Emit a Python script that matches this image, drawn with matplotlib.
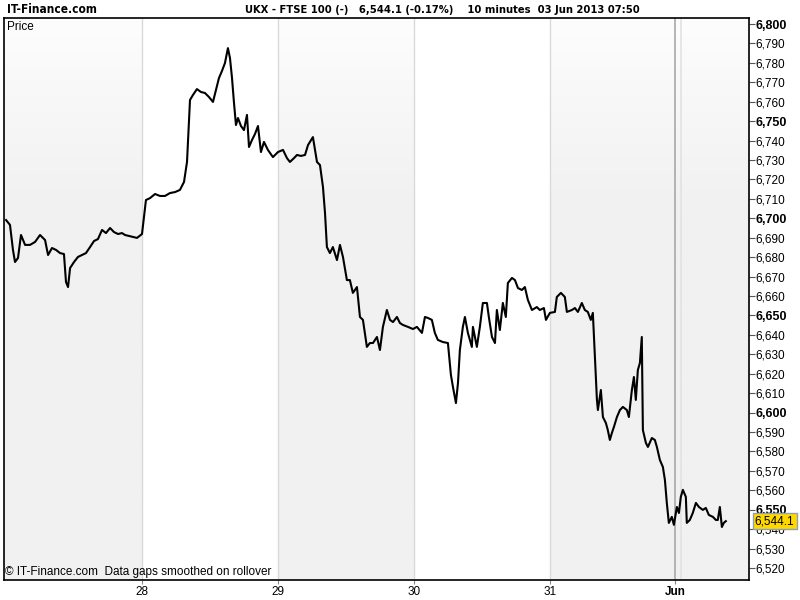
import numpy as np
import matplotlib
matplotlib.use("Agg")
import matplotlib.pyplot as plt
import matplotlib.transforms as mtransforms
from matplotlib.colors import LinearSegmentedColormap

# time in trading days from the start of 27 May (10 minute bars, sampled)
t = [0.000, 0.029, 0.051, 0.066, 0.088, 0.110, 0.140, 0.176, 0.213, 0.250,
     0.287, 0.309, 0.338, 0.368, 0.397, 0.426, 0.441, 0.456, 0.471, 0.500,
     0.529, 0.559, 0.588, 0.618, 0.647, 0.676, 0.706, 0.735, 0.765, 0.794,
     0.824, 0.853, 0.875, 0.963, 1.000, 1.029, 1.059, 1.096, 1.132, 1.169,
     1.206, 1.243, 1.279, 1.309, 1.331, 1.353, 1.375, 1.404, 1.434, 1.463,
     1.493, 1.522, 1.544, 1.566, 1.588, 1.610, 1.632, 1.647, 1.662, 1.676,
     1.691, 1.706, 1.728, 1.750, 1.772, 1.787, 1.809, 1.831, 1.853, 1.875,
     1.897, 1.926, 1.963, 2.000, 2.037, 2.066, 2.088, 2.118, 2.140, 2.169,
     2.199, 2.221, 2.257, 2.287, 2.309, 2.331, 2.346, 2.360, 2.382, 2.404,
     2.434, 2.456, 2.478, 2.507, 2.529, 2.551, 2.581, 2.603, 2.625, 2.654,
     2.676, 2.699, 2.728, 2.750, 2.772, 2.801, 2.824, 2.846, 2.875, 2.897,
     2.919, 2.956, 2.993, 3.022, 3.059, 3.081, 3.103, 3.132, 3.154, 3.176,
     3.213, 3.250, 3.272, 3.287, 3.309, 3.324, 3.338, 3.360, 3.375, 3.397,
     3.426, 3.434, 3.463, 3.485, 3.507, 3.537, 3.551, 3.574, 3.596, 3.610,
     3.632, 3.654, 3.676, 3.691, 3.721, 3.743, 3.765, 3.794, 3.816, 3.838,
     3.868, 3.904, 3.926, 3.956, 3.971, 4.000, 4.037, 4.051, 4.081, 4.110,
     4.125, 4.162, 4.184, 4.206, 4.235, 4.257, 4.279, 4.301, 4.316, 4.331,
     4.346, 4.353, 4.375, 4.390, 4.412, 4.426, 4.441, 4.456, 4.471, 4.493,
     4.515, 4.537, 4.566, 4.581, 4.603, 4.618, 4.632, 4.647, 4.662, 4.676,
     4.684, 4.706, 4.721, 4.750, 4.772, 4.787, 4.809, 4.831, 4.846, 4.860,
     4.875, 4.897, 4.912, 4.934, 4.949, 4.963, 4.978, 5.000, 5.007, 5.029,
     5.051, 5.074, 5.096, 5.125, 5.147, 5.169, 5.199, 5.221, 5.235, 5.250,
     5.265, 5.279, 5.294]

price = [6699.1, 6696.6, 6683.7, 6677.5, 6679.6, 6691.4, 6686.3, 6686.3, 6687.8, 6691.4,
         6688.8, 6681.1, 6684.7, 6683.7, 6682.1, 6681.6, 6667.2, 6664.6, 6674.4, 6677.5,
         6680.1, 6681.1, 6682.1, 6685.2, 6688.3, 6689.3, 6694.0, 6692.4, 6695.0, 6692.9,
         6691.9, 6692.4, 6691.4, 6689.9, 6691.9, 6709.4, 6710.4, 6712.5, 6711.5, 6711.5,
         6713.0, 6713.5, 6714.6, 6718.7, 6729.0, 6760.9, 6763.5, 6766.5, 6765.0, 6764.5,
         6762.4, 6759.9, 6766.0, 6772.2, 6775.8, 6779.9, 6787.6, 6782.5, 6772.2, 6759.9,
         6748.0, 6751.6, 6747.5, 6745.4, 6753.2, 6736.7, 6740.3, 6743.4, 6747.5, 6734.1,
         6739.3, 6735.2, 6731.5, 6734.1, 6735.2, 6731.0, 6729.0, 6731.0, 6732.6, 6732.1,
         6732.6, 6737.7, 6741.8, 6729.0, 6727.4, 6716.1, 6702.7, 6685.2, 6682.1, 6685.2,
         6678.5, 6686.3, 6680.1, 6668.2, 6668.2, 6661.6, 6664.6, 6649.2, 6647.7, 6633.8,
         6635.8, 6635.8, 6638.9, 6632.2, 6644.1, 6652.8, 6647.7, 6646.6, 6649.2, 6646.1,
         6645.1, 6644.1, 6643.0, 6644.1, 6641.0, 6649.2, 6648.7, 6647.7, 6641.0, 6637.4,
         6636.3, 6635.8, 6619.4, 6613.2, 6604.9, 6615.2, 6632.2, 6644.1, 6649.2, 6641.0,
         6633.8, 6644.1, 6633.8, 6644.1, 6656.4, 6656.4, 6649.2, 6638.9, 6635.8, 6652.8,
         6642.5, 6656.4, 6649.2, 6666.7, 6669.3, 6668.2, 6664.1, 6663.1, 6664.6, 6658.0,
         6652.8, 6654.3, 6652.8, 6653.8, 6647.7, 6651.3, 6651.8, 6659.5, 6661.6, 6659.5,
         6651.8, 6652.8, 6653.8, 6651.8, 6656.4, 6652.8, 6651.8, 6647.7, 6651.3, 6628.6,
         6606.5, 6601.3, 6611.6, 6597.7, 6594.6, 6591.0, 6585.9, 6589.5, 6592.6, 6597.7,
         6601.3, 6602.9, 6601.3, 6597.7, 6611.6, 6618.3, 6606.5, 6621.9, 6625.5, 6638.9,
         6591.0, 6584.4, 6582.3, 6586.9, 6585.9, 6582.3, 6575.6, 6572.0, 6565.3, 6553.5,
         6543.2, 6546.3, 6542.2, 6551.4, 6548.3, 6556.6, 6560.2, 6556.6, 6543.2, 6544.7,
         6548.3, 6553.5, 6551.4, 6549.9, 6550.9, 6547.3, 6546.3, 6544.7, 6544.7, 6551.4,
         6541.1, 6543.2, 6544.1]

day_starts = [1.0, 2.0, 3.0, 4.0, 4.919]
day_labels = ["28", "29", "30", "31", "Jun"]
last_price = 6544.1

fig = plt.figure(figsize=(8, 6), dpi=100)
ax = fig.add_axes([0.005, 0.0333, 0.931, 0.9367])
xmin, xmax = -0.015, 5.463
ymin, ymax = 6513.8, 6803.1
ax.set_xlim(xmin, xmax)
ax.set_ylim(ymin, ymax)
ax.set_facecolor("white")

# shaded day bands with a soft fade near the top
cmap = LinearSegmentedColormap.from_list("band", ["#fdfdfd", "#f1f1f1", "#f1f1f1", "#f1f1f1"])
grad = np.linspace(0, 1, 200).reshape(-1, 1)
for x0, x1 in [(xmin, 1.0), (2.0, 3.0), (4.0, xmax)]:
    ax.imshow(grad, extent=[x0, x1, ymin, ymax], aspect="auto", cmap=cmap,
              origin="upper", zorder=0)

for d in day_starts[:4]:
    ax.axvline(d, color="#dadada", lw=1, zorder=1)
ax.axvline(4.919, color="#a8a8a8", lw=1.2, zorder=1)
ax.axvline(4.963, color="#e2e2e2", lw=1.2, zorder=1)

ax.plot(t, price, color="black", lw=1.5, zorder=3)

# right y axis
ax.yaxis.tick_right()
yt = np.arange(6520, 6801, 10)
ax.set_yticks(yt)
ax.set_yticklabels([f"{v:,}" for v in yt])
for lab, v in zip(ax.get_yticklabels(), yt):
    lab.set_fontsize(8.5)
    lab.set_family("Liberation Sans")
    if v % 50 == 0:
        lab.set_fontweight("bold")
        lab.set_fontsize(9)
ax.tick_params(axis="y", direction="out", length=4, width=0.8, color="#555555", pad=1)

ax.set_xticks(day_starts)
ax.set_xticklabels(day_labels)
for lab in ax.get_xticklabels():
    lab.set_fontsize(8.5)
    lab.set_family("Liberation Sans")
ax.get_xticklabels()[-1].set_fontweight("bold")
ax.tick_params(axis="x", direction="out", length=3, width=0.8, color="#888888", pad=1)

for s in ax.spines.values():
    s.set_color("black")
    s.set_linewidth(1.2)

# last value marker
trans = mtransforms.blended_transform_factory(ax.transAxes, ax.transData)
ax.text(1.008, last_price, f"{last_price:,.1f}", transform=trans, ha="left", va="center",
        fontsize=8.5, family="Liberation Sans", zorder=5,
        bbox=dict(boxstyle="square,pad=0.18", fc="#ffd800", ec="#90a0b4", lw=1))

ax.text(0.004, 0.995, "Price", transform=ax.transAxes, ha="left", va="top",
        fontsize=8.5, family="Liberation Sans")
ax.text(0.002, 0.004, "\u00a9 IT-Finance.com  Data gaps smoothed on rollover",
        transform=ax.transAxes, ha="left", va="bottom", fontsize=8.5,
        family="Liberation Sans")

fig.text(0.009, 0.984, "IT-Finance.com", ha="left", va="center", fontsize=8.5,
         fontweight="bold", family="DejaVu Sans", fontstretch="condensed")
fig.text(0.5525, 0.984, "UKX - FTSE 100 (-)   6,544.1 (-0.17%)    10 minutes  03 Jun 2013 07:50",
         ha="center", va="center", fontsize=8, fontweight="bold",
         family="DejaVu Sans", fontstretch="condensed")

fig.savefig("out.png", dpi=100)
